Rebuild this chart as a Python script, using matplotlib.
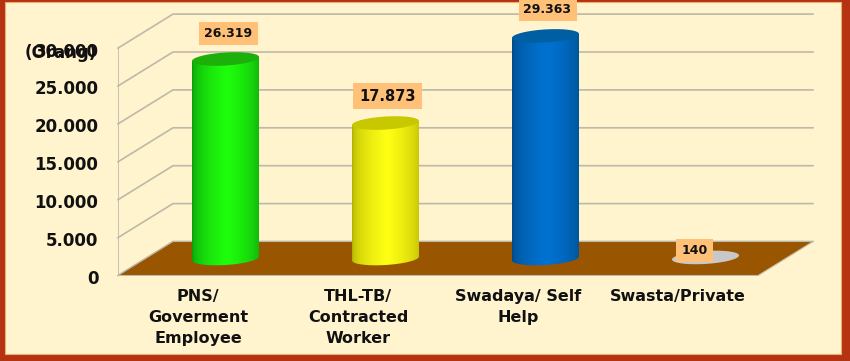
import matplotlib
matplotlib.use('Agg')
import matplotlib.pyplot as plt
import numpy as np
from matplotlib.patches import Rectangle, Polygon
from matplotlib.transforms import ScaledTranslation

categories = ['PNS/\nGoverment\nEmployee', 'THL-TB/\nContracted\nWorker', 'Swadaya/ Self\nHelp', 'Swasta/Private']
values = [26319, 17873, 29363, 140]
value_labels = ['26.319', '17.873', '29.363', '140']
y_ticks = [0, 5000, 10000, 15000, 20000, 25000, 30000]
y_labels = ['0', '5.000', '10.000', '15.000', '20.000', '25.000', '30.000']

# warna: tepi, tengah, tutup
bar_colors = [('#0B8F0B', '#1EFF0C', '#1DB00A'),
              ('#A8A800', '#FFFF14', '#C8C800'),
              ('#00467C', '#0072D2', '#005FA3'),
              ('#C8C8C8', '#C8C8C8', '#C8C8C8')]
label_offset = [(3, 26), (2, 27), (2, 26), (-11, 7)]
label_size = [9, 10.5, 9, 9]

W, H = 850, 361
BORDER = '#B53212'
CREAM = '#FFF4CE'
GRID = '#BDB9A8'
FLOOR = '#9A5500'
LABEL_BG = '#FFC078'
FONT = 'DejaVu Sans'

fig = plt.figure(figsize=(W / 100, H / 100), dpi=100, facecolor=BORDER)
fig.patches.append(Rectangle((5 / W, 1 - 354 / H), 836 / W, 352.5 / H, transform=fig.transFigure,
                             facecolor=CREAM, edgecolor='#E8B070', lw=0.8, zorder=-1))

# sumbu: 118..813 px, 275.5..14 px
ax = fig.add_axes([118 / W, 1 - 275.5 / H, 695 / W, 261.5 / H])
ax.patch.set_visible(False)
for s in ax.spines.values():
    s.set_visible(False)

px_x = 1 / 160           # satu piksel dalam satuan kategori
px_y = 5000 / 37.9       # satu piksel dalam satuan nilai
dx = 55 * px_x
dy = 34 * px_y

# dinding dan lantai
for t in y_ticks:
    ax.plot([-0.5, -0.5 + dx, 3.84375], [t, t + dy, t + dy], color=GRID, lw=1.2, zorder=1, clip_on=False)
ax.plot([-0.5, -0.5], [0, 30000], color=GRID, lw=1.2, zorder=1)
ax.add_patch(Polygon([(-0.5, 0), (-0.5 + dx, dy), (3.84375, dy), (3.5, 0)], closed=True,
                     facecolor=FLOOR, edgecolor=GRID, lw=0.8, zorder=2))

# silinder
a = 33.5 * px_x
b = 6.5 * px_y
k = 2.0 * px_y
t_par = np.linspace(0, 2 * np.pi, 121)
for i, v in enumerate(values):
    cx = i + dx / 2
    cy0 = dy / 2
    edge, mid, cap = bar_colors[i]
    ex = cx + a * np.cos(t_par)
    ey = b * np.sin(t_par) + k * np.cos(t_par)
    if v > 1000:
        lower = t_par[(t_par >= np.pi) & (t_par <= 2 * np.pi)]
        bx = cx + a * np.cos(lower)
        by = cy0 + b * np.sin(lower) + k * np.cos(lower)
        body = np.column_stack([np.r_[bx, bx[-1], bx[0]], np.r_[by, cy0 + v + k, cy0 + v - k]])
        poly = Polygon(body, closed=True, transform=ax.transData, facecolor='none', edgecolor='none')
        ax.add_patch(poly)
        s = np.linspace(0, 1, 200)
        grad = np.zeros((1, 200, 3))
        c0 = np.array(matplotlib.colors.to_rgb(edge))
        c1 = np.array(matplotlib.colors.to_rgb(mid))
        w = np.clip(1 - np.abs(s - 0.52) / 0.52, 0, 1) ** 0.4
        grad[0] = c0 + (c1 - c0) * w[:, None]
        im = ax.imshow(grad, extent=[cx - a, cx + a, cy0 - b - k, cy0 + v + k], aspect='auto', zorder=3)
        im.set_clip_path(poly)
    ax.fill(ex, cy0 + v + ey, color=cap, zorder=4, lw=0)
    ox, oy = label_offset[i]
    ax.annotate(value_labels[i], (cx, cy0 + v), xytext=(ox * 0.72, oy * 0.72), textcoords='offset points',
                ha='center', va='center', fontsize=label_size[i], fontweight='bold', family=FONT, color='#111111',
                bbox=dict(boxstyle='square,pad=0.4', fc=LABEL_BG, ec='none'), zorder=6, annotation_clip=False)

ax.set_xlim(-0.5, 3.84375)
ax.set_ylim(0, 261.5 * px_y)
ax.set_xticks(range(len(categories)))
ax.set_xticklabels(categories, fontsize=11.5, fontweight='bold', family=FONT, linespacing=1.5, color='#111111')
ax.set_yticks(y_ticks)
ax.set_yticklabels(y_labels, fontsize=12, fontweight='bold', family=FONT, color='#111111')
ax.tick_params(axis='both', length=0)
ax.tick_params(axis='x', pad=10)
ax.tick_params(axis='y', pad=14)
shift = ScaledTranslation(0, -1.5 / 100, fig.dpi_scale_trans)
for lab in ax.get_yticklabels():
    lab.set_transform(lab.get_transform() + shift)

fig.text(61 / W, 1 - 53 / H, '(Orang)', ha='center', va='center', fontsize=12, fontweight='bold',
         family=FONT, color='#111111')

fig.savefig('out.png', dpi=100, facecolor=fig.get_facecolor())
